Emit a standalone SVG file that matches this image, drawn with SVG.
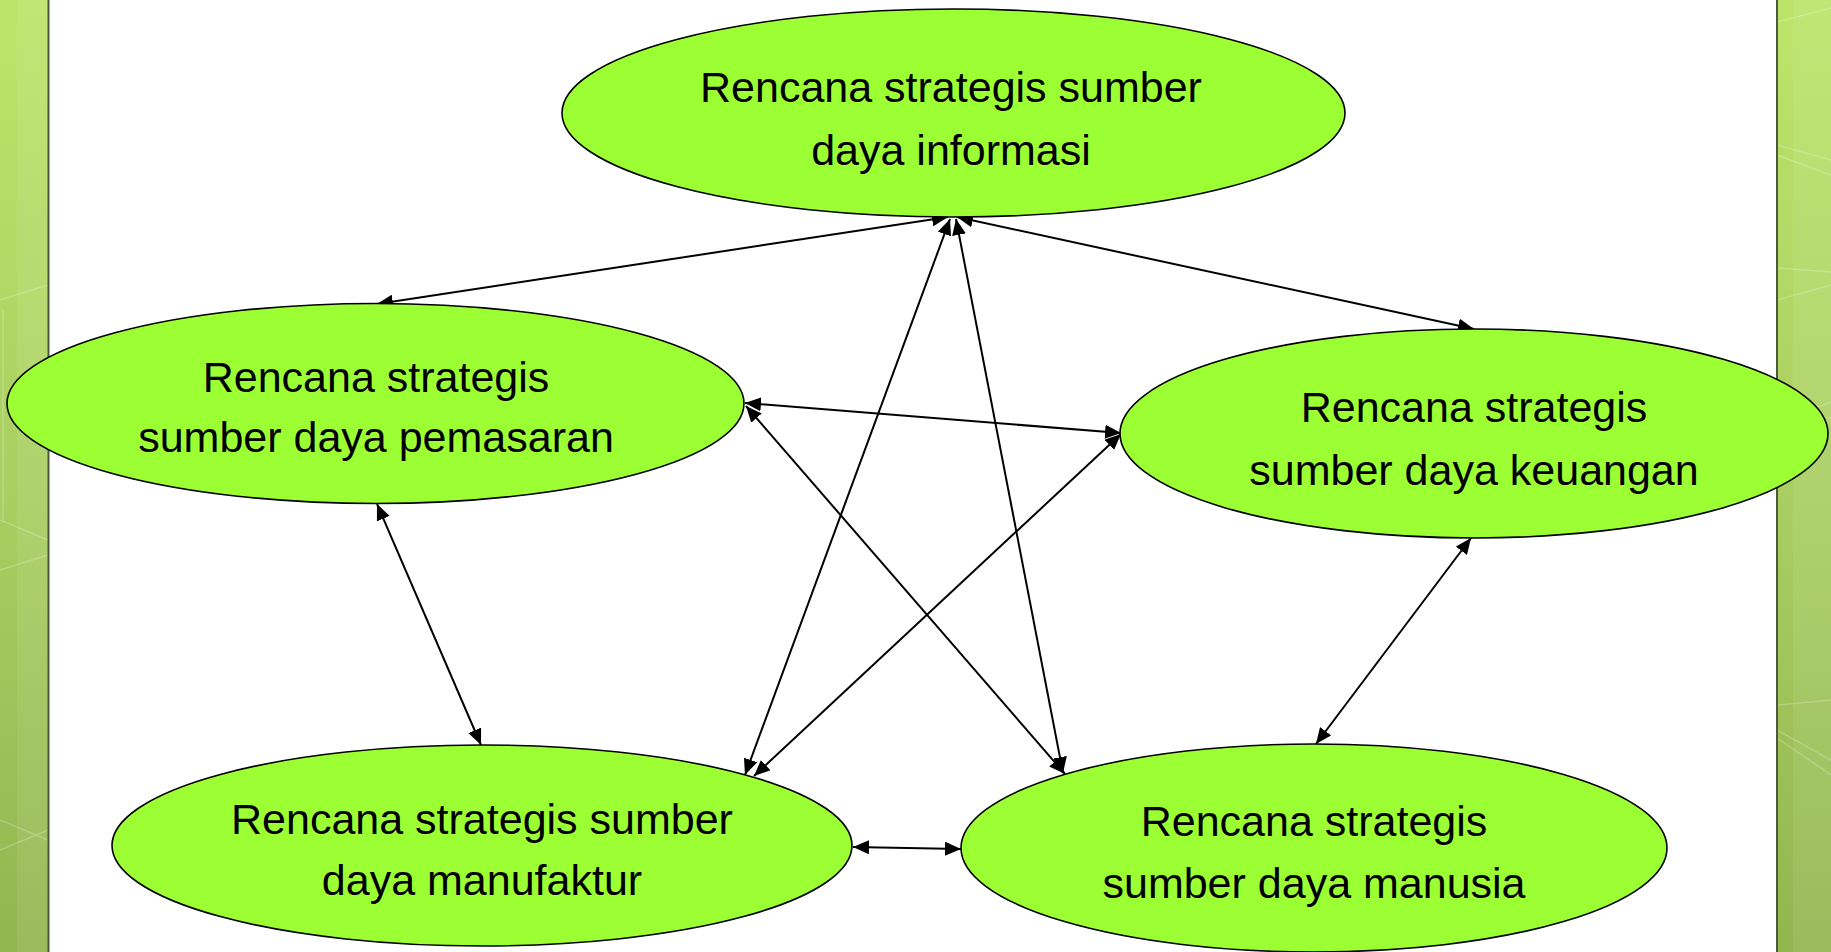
<svg xmlns="http://www.w3.org/2000/svg" width="1831" height="952" viewBox="0 0 1831 952">
<style>
.node ellipse{fill:#9cff33;stroke:#000;stroke-width:1.6}
.node text{font-family:"Liberation Sans",Arial,sans-serif;font-size:43px;fill:#000;text-anchor:middle}
.edge{stroke:#000;stroke-width:2;fill:none;marker-start:url(#ah);marker-end:url(#ah)}
.deco{stroke:#ffffff;stroke-opacity:0.22;stroke-width:1.5;fill:none}
</style>
<defs>
<linearGradient id="bar" x1="0" y1="0" x2="0" y2="1">
<stop offset="0" stop-color="#bde46a"/>
<stop offset="0.5" stop-color="#aacf62"/>
<stop offset="1" stop-color="#93b550"/>
</linearGradient>
<marker id="ah" markerUnits="userSpaceOnUse" markerWidth="16" markerHeight="14" refX="16" refY="7" orient="auto-start-reverse" viewBox="0 0 16 14">
<path d="M0,0 L16,7 L0,14 z" fill="#000"/>
</marker>
</defs>
<rect x="0" y="0" width="1831" height="952" fill="#ffffff"/>
<g id="left-bar">
<rect x="0" y="0" width="48" height="952" fill="url(#bar)"/>
<rect x="17" y="0" width="31" height="952" fill="#ffffff" fill-opacity="0.08"/>
<path class="deco" d="M0,300 L48,285 M3,310 L3,520 M0,520 L48,540 M0,570 L48,555 M0,820 L48,840 M0,850 L48,830"/>
<line x1="48.5" y1="0" x2="48.5" y2="952" stroke="#4d5a3a" stroke-width="2"/>
</g>
<g id="right-bar">
<rect x="1777" y="0" width="54" height="952" fill="url(#bar)"/>
<rect x="1793" y="0" width="38" height="952" fill="#ffffff" fill-opacity="0.08"/>
<path class="deco" d="M1777,22 L1831,8 M1777,145 L1831,160 M1777,155 L1831,175 M1777,268 L1831,272 M1777,300 L1831,285 M1777,412 L1831,418 M1777,422 L1831,402 M1777,705 L1831,700 M1777,730 L1831,760 M1777,738 L1831,775"/>
<line x1="1777" y1="0" x2="1777" y2="952" stroke="#4d5a3a" stroke-width="2"/>
</g>
<g id="connectors">
<line class="edge" x1="377" y1="304" x2="948" y2="217"/>
<line class="edge" x1="1474" y1="329" x2="957" y2="217"/>
<line class="edge" x1="745" y1="775" x2="950" y2="219"/>
<line class="edge" x1="1063" y1="773" x2="956" y2="219"/>
<line class="edge" x1="745" y1="403" x2="1121" y2="433"/>
<line class="edge" x1="746" y1="406" x2="1065" y2="774"/>
<line class="edge" x1="1121" y1="434" x2="754" y2="776"/>
<line class="edge" x1="377" y1="504" x2="481" y2="745"/>
<line class="edge" x1="1471" y1="538" x2="1316" y2="744"/>
<line class="edge" x1="853" y1="847" x2="961" y2="849"/>
</g>
<g id="node-informasi" class="node">
<ellipse cx="953.5" cy="113" rx="391.5" ry="104"/>
<text x="951" y="102">Rencana strategis sumber</text>
<text x="951" y="165">daya informasi</text>
</g>
<g id="node-pemasaran" class="node">
<ellipse cx="375.5" cy="403.5" rx="368.5" ry="100"/>
<text x="376" y="392">Rencana strategis</text>
<text x="376" y="452">sumber daya pemasaran</text>
</g>
<g id="node-keuangan" class="node">
<ellipse cx="1474" cy="433.5" rx="354" ry="104.5"/>
<text x="1474" y="422">Rencana strategis</text>
<text x="1474" y="485">sumber daya keuangan</text>
</g>
<g id="node-manufaktur" class="node">
<ellipse cx="482" cy="845.5" rx="370" ry="100.5"/>
<text x="482" y="834">Rencana strategis sumber</text>
<text x="482" y="895">daya manufaktur</text>
</g>
<g id="node-manusia" class="node">
<ellipse cx="1314" cy="848" rx="353" ry="104"/>
<text x="1314" y="836">Rencana strategis</text>
<text x="1314" y="898">sumber daya manusia</text>
</g>
<g id="connector-heads-top">
</g>
</svg>
